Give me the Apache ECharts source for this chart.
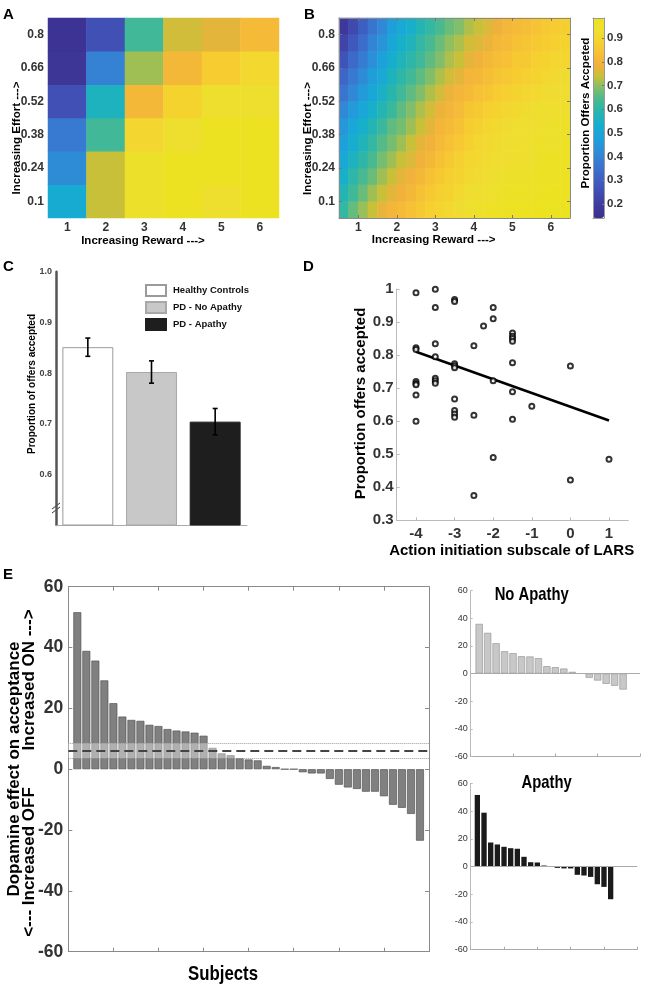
<!DOCTYPE html>
<html><head><meta charset="utf-8">
<script src="https://cdn.jsdelivr.net/npm/echarts/dist/echarts.min.js"></script>
<style>html,body{margin:0;padding:0;background:#fff}#c{width:652px;height:987px}</style>
</head><body><div id="c"></div>
<script>
// ---------- Panel A: observed acceptance (rows = effort level, columns = reward 1..6)
const rewardLevels = ['1','2','3','4','5','6'];
const effortLevels = ['0.1','0.24','0.38','0.52','0.66','0.8'];
const obsEffort01  = [0.52,0.74,0.95,0.97,0.94,0.97];
const obsEffort024 = [0.42,0.74,0.95,0.97,0.97,0.97];
const obsEffort038 = [0.37,0.63,0.90,0.94,0.97,0.97];
const obsEffort052 = [0.26,0.56,0.81,0.89,0.94,0.94];
const obsEffort066 = [0.17,0.39,0.71,0.81,0.87,0.91];
const obsEffort08  = [0.16,0.26,0.63,0.75,0.77,0.82];

// ---------- Panel B: model surface (cells of 0.25 reward x 0.07 effort)
const modelReward = ['0.625','0.875','1.125','1.375','1.625','1.875','2.125','2.375','2.625','2.875','3.125','3.375','3.625','3.875','4.125','4.375','4.625','4.875','5.125','5.375','5.625','5.875','6.125','6.375'];
const modelEffort = ['0.065','0.135','0.205','0.275','0.345','0.415','0.485','0.555','0.625','0.695','0.765','0.835'];
const modelE065 = [0.61,0.665,0.705,0.74,0.775,0.80,0.82,0.84,0.86,0.88,0.895,0.91,0.925,0.94,0.95,0.955,0.96,0.965,0.97,0.97,0.97,0.975,0.975,0.975];
const modelE135 = [0.58,0.63,0.67,0.71,0.74,0.77,0.79,0.81,0.84,0.86,0.88,0.89,0.91,0.93,0.94,0.94,0.95,0.96,0.96,0.96,0.96,0.97,0.97,0.97];
const modelE205 = [0.54,0.60,0.64,0.67,0.71,0.74,0.77,0.79,0.81,0.84,0.86,0.88,0.89,0.91,0.92,0.93,0.94,0.95,0.95,0.95,0.96,0.96,0.96,0.97];
const modelE275 = [0.51,0.56,0.60,0.64,0.68,0.71,0.74,0.76,0.79,0.81,0.84,0.86,0.88,0.90,0.91,0.92,0.93,0.93,0.94,0.94,0.95,0.96,0.96,0.96];
const modelE345 = [0.48,0.53,0.57,0.61,0.65,0.68,0.71,0.74,0.77,0.79,0.82,0.84,0.86,0.88,0.90,0.91,0.92,0.93,0.93,0.94,0.95,0.95,0.95,0.96];
const modelE415 = [0.45,0.50,0.54,0.58,0.62,0.66,0.68,0.71,0.74,0.77,0.80,0.82,0.84,0.87,0.88,0.90,0.91,0.92,0.93,0.93,0.94,0.94,0.95,0.95];
const modelE485 = [0.41,0.46,0.50,0.54,0.58,0.62,0.66,0.69,0.72,0.75,0.78,0.80,0.82,0.85,0.86,0.88,0.89,0.90,0.91,0.92,0.93,0.93,0.94,0.94];
const modelE555 = [0.36,0.41,0.46,0.50,0.55,0.59,0.63,0.66,0.69,0.72,0.75,0.78,0.80,0.82,0.84,0.85,0.87,0.88,0.89,0.90,0.91,0.92,0.92,0.93];
const modelE625 = [0.32,0.37,0.42,0.47,0.51,0.56,0.60,0.63,0.66,0.69,0.72,0.75,0.77,0.80,0.81,0.83,0.85,0.86,0.87,0.88,0.89,0.90,0.91,0.92];
const modelE695 = [0.27,0.33,0.38,0.43,0.48,0.53,0.57,0.60,0.63,0.66,0.69,0.72,0.74,0.77,0.79,0.81,0.83,0.84,0.86,0.86,0.88,0.89,0.90,0.90];
const modelE765 = [0.22,0.28,0.34,0.40,0.44,0.50,0.54,0.57,0.61,0.64,0.67,0.70,0.72,0.75,0.76,0.78,0.81,0.82,0.84,0.85,0.86,0.87,0.88,0.89];
const modelE835 = [0.18,0.24,0.30,0.36,0.41,0.47,0.51,0.54,0.58,0.61,0.64,0.67,0.69,0.72,0.74,0.76,0.785,0.805,0.82,0.83,0.845,0.86,0.87,0.875];
const rewardTicks = [1,2,3,4,5,6];
const effortTicks = [0.1,0.24,0.38,0.52,0.66,0.8];
const colorbarTicks = [0.2,0.3,0.4,0.5,0.6,0.7,0.8,0.9];

// ---------- Panel C
const groupNames = ['Healthy Controls','PD - No Apathy','PD - Apathy'];
const groupMeans = [0.851,0.802,0.704];
const groupSEM   = [0.018,0.022,0.026];
const groupTicks = [0.6,0.7,0.8,0.9,1.0];

// ---------- Panel D
const larsScore = [-4,-4,-4,-4,-4,-4,-4,-4, -3.5,-3.5,-3.5,-3.5,-3.5,-3.5,-3.5,
  -3,-3,-3,-3,-3,-3,-3,-3,-3, -2.5,-2.5,-2.5, -2.25, -2,-2,-2,-2,
  -1.5,-1.5,-1.5,-1.5,-1.5,-1.5,-1.5, -1, 0,0, 1];
const propAccepted = [0.989,0.822,0.817,0.720,0.714,0.710,0.679,0.600, 0.999,0.944,0.834,0.795,0.730,0.722,0.715,
  0.968,0.962,0.774,0.768,0.762,0.667,0.632,0.622,0.612, 0.828,0.618,0.375, 0.888, 0.944,0.910,0.722,0.490,
  0.867,0.857,0.850,0.842,0.777,0.689,0.606, 0.645, 0.767,0.422, 0.485];
const fitX = [-4,1];
const fitY = [0.81,0.602];
const larsTicks = [-4,-3,-2,-1,0,1];

// ---------- Panel E
const effectAll = [51.6,38.9,35.7,29.2,21.7,17.3,16.2,15.9,14.6,14.2,13.2,12.7,12.4,12.0,11.0,7.0,5.2,4.6,3.6,3.2,2.9,1.1,0.7,0,0,
  -1.0,-1.4,-1.4,-3.2,-5.1,-6.0,-6.5,-7.4,-7.4,-8.9,-11.7,-12.7,-14.7,-23.5];
const effectNoApathy = [35.9,29.4,21.9,16.1,14.7,12.5,12.3,11.1,5.3,4.6,3.6,1.2,0,-3.1,-5.1,-7.5,-8.9,-11.6];
const effectApathy = [51.6,38.8,17.3,15.9,14.2,13.2,12.8,7.0,3.1,2.9,0.7,0,-1.0,-1.4,-1.4,-6.0,-6.5,-7.5,-12.8,-14.7,-23.6];
const effectMean = 6.1;
const effectBandLow = 3.7;
const effectBandHigh = 8.6;

// ---------- build
const SANS = "'Liberation Sans', Arial, Helvetica, sans-serif";
const parula = ['#3b2f8d','#3f3a9e','#4049ad','#3f5bbf','#3c6dcb','#3580d4','#2a93d9','#1aa4da','#17afcc','#26b5b0','#45b993','#7dbe6c','#c6c13a','#f1b13c','#f7c036','#f5d22f','#eedf30','#ebe41c'];

const obsRows = [obsEffort01,obsEffort024,obsEffort038,obsEffort052,obsEffort066,obsEffort08];
const heatA = [];
obsRows.forEach((row, yi) => row.forEach((v, xi) => heatA.push([xi, yi, v])));
const modelRows = [modelE065,modelE135,modelE205,modelE275,modelE345,modelE415,modelE485,modelE555,modelE625,modelE695,modelE765,modelE835];
const heatB = [];
modelRows.forEach((row, yi) => row.forEach((v, xi) => heatB.push([xi, yi, v])));

const idx = arr => arr.map((v, i) => [i + 1, v]);

const lblA = {color:'#333', fontFamily:SANS, fontWeight:'bold', fontSize:12};
const hide = {show:false};

const grids = [
  {left:48, top:18, width:231, height:200},        //0 A
  {left:339, top:18, width:231, height:200},       //1 B heat
  {left:339, top:18, width:231, height:200},       //2 B axes
  {left:593, top:18, width:11, height:200},        //3 colorbar frame
  {left:56, top:271.7, width:191, height:253.3},   //4 C
  {left:396.7, top:289, width:231.6, height:231.3},//5 D
  {left:68.3, top:586.7, width:360.7, height:365}, //6 E main
  {left:470.7, top:590.5, width:169.3, height:166},//7 No apathy
  {left:470.7, top:783.3, width:166.6, height:166.4} //8 Apathy
];

const frameLine = {show:true, onZero:false, lineStyle:{color:'#8a8a8a', width:1}};
const cbLine = {show:true, onZero:false, lineStyle:{color:'#999'}};
const eLine = {show:true, onZero:false, lineStyle:{color:'#8a8a8a'}};
const xAxes = [
  {gridIndex:0, type:'category', data:rewardLevels, axisLine:hide, axisTick:hide, axisLabel:Object.assign({margin:4}, lblA)},
  {gridIndex:1, type:'category', data:modelReward, show:false},
  {gridIndex:2, type:'value', min:0.5, max:6.5, z:5, axisLine:frameLine, splitLine:hide,
    axisTick:{inside:true, length:3, customValues:rewardTicks, lineStyle:{color:'#777'}},
    axisLabel:Object.assign({margin:4, customValues:rewardTicks}, lblA)},
  {gridIndex:2, type:'value', position:'top', min:0.5, max:6.5, z:5, axisLine:frameLine, splitLine:hide,
    axisTick:{inside:true, length:3, customValues:rewardTicks, lineStyle:{color:'#777'}}, axisLabel:hide},
  {gridIndex:3, type:'value', min:0, max:1, z:6, axisLine:cbLine, axisTick:hide, axisLabel:hide, splitLine:hide},
  {gridIndex:3, type:'value', position:'top', min:0, max:1, z:6, axisLine:cbLine, axisTick:hide, axisLabel:hide, splitLine:hide},
  {gridIndex:4, type:'category', data:groupNames, axisLine:{show:true, onZero:false, lineStyle:{color:'#aaa'}}, axisTick:hide, axisLabel:hide},
  {gridIndex:5, type:'value', min:-4.5, max:1.5, splitLine:hide,
    axisLine:{show:true, onZero:false, lineStyle:{color:'#bbb'}},
    axisTick:{inside:true, length:3, customValues:larsTicks, lineStyle:{color:'#bbb'}},
    axisLabel:{customValues:larsTicks, margin:6, color:'#333', fontFamily:SANS, fontWeight:'bold', fontSize:15}},
  {gridIndex:6, type:'value', min:0, max:40, interval:5, splitLine:hide,
    axisLine:eLine, axisTick:{inside:true, length:4, lineStyle:{color:'#8a8a8a'}}, axisLabel:hide},
  {gridIndex:6, type:'value', position:'top', min:0, max:40, interval:5, splitLine:hide,
    axisLine:eLine, axisTick:{inside:true, length:4, lineStyle:{color:'#8a8a8a'}}, axisLabel:hide},
  {gridIndex:7, type:'value', min:0, max:20, interval:5, splitLine:hide,
    axisLine:{show:true, onZero:false, lineStyle:{color:'#aaa'}}, axisTick:{inside:true, length:3, lineStyle:{color:'#aaa'}}, axisLabel:hide},
  {gridIndex:8, type:'value', min:0, max:25, interval:5, splitLine:hide,
    axisLine:{show:true, onZero:false, lineStyle:{color:'#aaa'}}, axisTick:{inside:true, length:3, lineStyle:{color:'#aaa'}}, axisLabel:hide}
];

const eLbl = {color:'#333', fontFamily:SANS, fontWeight:'bold', fontSize:17.5, margin:5};
const sLbl = {color:'#333', fontFamily:SANS, fontSize:9, margin:3};
const yAxes = [
  {gridIndex:0, type:'category', data:effortLevels, axisLine:hide, axisTick:hide, axisLabel:Object.assign({margin:4}, lblA)},
  {gridIndex:1, type:'category', data:modelEffort, show:false},
  {gridIndex:2, type:'value', min:0.03, max:0.87, z:5, axisLine:frameLine, splitLine:hide,
    axisTick:{inside:true, length:3, customValues:effortTicks, lineStyle:{color:'#777'}},
    axisLabel:Object.assign({margin:4, customValues:effortTicks}, lblA)},
  {gridIndex:2, type:'value', position:'right', min:0.03, max:0.87, z:5, axisLine:frameLine, splitLine:hide,
    axisTick:{inside:true, length:3, customValues:effortTicks, lineStyle:{color:'#777'}}, axisLabel:hide},
  {gridIndex:3, type:'value', min:0.141, max:0.985, z:6, axisLine:cbLine, axisTick:hide, axisLabel:hide, splitLine:hide},
  {gridIndex:3, type:'value', position:'right', min:0.141, max:0.985, z:6, axisLine:cbLine, splitLine:hide,
    axisTick:{inside:true, length:2, customValues:colorbarTicks, lineStyle:{color:'#777'}},
    axisLabel:{customValues:colorbarTicks, margin:3, color:'#333', fontFamily:SANS, fontWeight:'bold', fontSize:11.5}},
  {gridIndex:4, type:'value', min:0.5, max:1.0, splitLine:hide,
    axisLine:{show:true, onZero:false, lineStyle:{color:'#555', width:2.5}}, axisTick:hide,
    axisLabel:{customValues:groupTicks, formatter:v => v.toFixed(1), margin:4, color:'#444', fontFamily:SANS, fontWeight:'bold', fontSize:9}},
  {gridIndex:5, type:'value', min:0.3, max:1.0, interval:0.1, splitLine:hide,
    axisLine:{show:true, onZero:false, lineStyle:{color:'#bbb'}}, axisTick:{inside:true, length:3, lineStyle:{color:'#bbb'}},
    axisLabel:{margin:3, color:'#333', fontFamily:SANS, fontWeight:'bold', fontSize:15}},
  {gridIndex:6, type:'value', min:-60, max:60, interval:20, splitLine:hide,
    axisLine:eLine, axisTick:{inside:true, length:4, lineStyle:{color:'#8a8a8a'}}, axisLabel:eLbl},
  {gridIndex:6, type:'value', position:'right', min:-60, max:60, interval:20, splitLine:hide,
    axisLine:eLine, axisTick:{inside:true, length:4, lineStyle:{color:'#8a8a8a'}}, axisLabel:hide},
  {gridIndex:7, type:'value', min:-60, max:60, interval:20, splitLine:hide,
    axisLine:{show:true, onZero:false, lineStyle:{color:'#bbb'}}, axisTick:{inside:true, length:2, lineStyle:{color:'#bbb'}}, axisLabel:sLbl},
  {gridIndex:8, type:'value', min:-60, max:60, interval:20, splitLine:hide,
    axisLine:{show:true, onZero:false, lineStyle:{color:'#bbb'}}, axisTick:{inside:true, length:2, lineStyle:{color:'#bbb'}}, axisLabel:sLbl}
];

const barStyles = [
  {color:'#ffffff', borderColor:'#9a9a9a', borderWidth:1},
  {color:'#c8c8c8', borderColor:'#a8a8a8', borderWidth:1},
  {color:'#1e1e1e', borderColor:'#1e1e1e', borderWidth:1}
];
const groupSeries = groupNames.map((name, gi) => ({
  name, type:'bar', xAxisIndex:6, yAxisIndex:6, barWidth:'80%', barGap:'-100%',
  itemStyle:barStyles[gi], silent:true,
  data:groupMeans.map((m, i) => i === gi ? m : '-')
}));

function txt(text, x, y, font, rot, align, sx) {
  return {type:'text', x, y, rotation:rot || 0, scaleX:sx || 1, silent:true,
    style:{text, font, fill:'#000', textAlign:align || 'center', align:align || 'center', textVerticalAlign:'middle', verticalAlign:'middle'}};
}
const R = Math.PI / 2;

const option = {
  animation:false,
  backgroundColor:'#fff',
  grid:grids,
  xAxis:xAxes,
  yAxis:yAxes,
  visualMap:{type:'continuous', seriesIndex:[0,1], min:0.14, max:0.985, calculable:false, show:true,
    left:593, top:18, itemWidth:11, itemHeight:200, padding:0, text:null, showLabel:false,
    inRange:{color:parula}},
  legend:{data:groupNames, orient:'vertical', left:145, top:284, padding:0, itemWidth:20, itemHeight:11, itemGap:4, icon:'rect',
    selectedMode:false, textStyle:{fontFamily:SANS, fontWeight:'bold', fontSize:9.5, color:'#111', padding:[0,0,0,2]}},
  series:[
    {type:'heatmap', xAxisIndex:0, yAxisIndex:0, data:heatA, silent:true},
    {type:'heatmap', xAxisIndex:1, yAxisIndex:1, data:heatB, silent:true},
    ...groupSeries,
    {type:'custom', xAxisIndex:6, yAxisIndex:6, silent:true, z:5,
      data:groupMeans.map((m, i) => [i, m - groupSEM[i], m + groupSEM[i]]),
      renderItem:(params, api) => {
        const lo = api.coord([api.value(0), api.value(1)]);
        const hi = api.coord([api.value(0), api.value(2)]);
        const c = 2.5, st = {stroke:'#000', lineWidth:1.6};
        return {type:'group', children:[
          {type:'line', shape:{x1:lo[0], y1:lo[1], x2:hi[0], y2:hi[1]}, style:st},
          {type:'line', shape:{x1:lo[0]-c, y1:lo[1], x2:lo[0]+c, y2:lo[1]}, style:st},
          {type:'line', shape:{x1:hi[0]-c, y1:hi[1], x2:hi[0]+c, y2:hi[1]}, style:st}
        ]};
      }},
    {type:'scatter', xAxisIndex:7, yAxisIndex:7, symbol:'circle', symbolSize:5, silent:true, z:4,
      itemStyle:{color:'#fff', borderColor:'#000', borderWidth:2},
      data:larsScore.map((x, i) => [x, propAccepted[i]])},
    {type:'line', xAxisIndex:7, yAxisIndex:7, symbol:'none', silent:true,
      lineStyle:{color:'#000', width:2.5}, data:fitX.map((x, i) => [x, fitY[i]])},
    {type:'bar', xAxisIndex:8, yAxisIndex:8, barWidth:'88%', silent:true,
      itemStyle:{color:'#808080', borderColor:'#555', borderWidth:0.7}, data:idx(effectAll)},
    {type:'line', xAxisIndex:8, yAxisIndex:8, data:[], z:10, silent:true,
      markArea:{silent:true, z:6, itemStyle:{color:'rgba(255,255,255,0.38)'}, data:[[{yAxis:effectBandLow},{yAxis:effectBandHigh}]]},
      markLine:{silent:true, z:7, symbol:'none', label:{show:false}, data:[
        {yAxis:effectBandHigh, lineStyle:{color:'#999', width:1, type:'dotted'}},
        {yAxis:effectBandLow, lineStyle:{color:'#999', width:1, type:'dotted'}},
        {yAxis:effectMean, lineStyle:{color:'#444', width:2, type:[9,5]}}
      ]}},
    {type:'bar', xAxisIndex:10, yAxisIndex:10, barWidth:'86%', silent:true,
      itemStyle:{color:'#c8c8c8', borderColor:'#9a9a9a', borderWidth:0.7}, data:idx(effectNoApathy),
      markLine:{silent:true, symbol:'none', label:{show:false}, data:[{yAxis:0}], lineStyle:{color:'#aaa', width:1, type:'solid'}}},
    {type:'bar', xAxisIndex:11, yAxisIndex:11, barWidth:'80%', silent:true,
      itemStyle:{color:'#1a1a1a'}, data:idx(effectApathy),
      markLine:{silent:true, symbol:'none', label:{show:false}, data:[{yAxis:0}], lineStyle:{color:'#aaa', width:1, type:'solid'}}}
  ],
  graphic:[
    txt('A', 3, 15, 'bold 15px ' + SANS, 0, 'left'),
    txt('B', 304, 15, 'bold 15px ' + SANS, 0, 'left'),
    txt('C', 3, 267, 'bold 15px ' + SANS, 0, 'left'),
    txt('D', 303, 267, 'bold 15px ' + SANS, 0, 'left'),
    txt('E', 3, 575, 'bold 15px ' + SANS, 0, 'left'),
    txt('Increasing Effort --->', 16.7, 138, 'bold 11.5px ' + SANS, R),
    txt('Increasing Effort --->', 308, 138.5, 'bold 11.5px ' + SANS, R),
    txt('Increasing Reward --->', 143, 240.5, 'bold 11.5px ' + SANS),
    txt('Increasing Reward --->', 433.7, 240, 'bold 11.5px ' + SANS),
    txt('Proportion Offers Accpeted', 585.7, 113, 'bold 11.5px ' + SANS, R),
    txt('Proportion of offers accepted', 32, 384, 'bold 10px ' + SANS, R),
    txt('Proportion offers accepted', 361, 403.5, 'bold 15px ' + SANS, R),
    txt('Action initiation subscale of LARS', 511.7, 551, 'bold 15px ' + SANS),
    txt('Dopamine effect on acceptance', 14, 769, 'bold 17px ' + SANS, R),
    txt('Increased ON --->', 29.5, 680, 'bold 17px ' + SANS, R),
    txt('<--- Increased OFF', 29.5, 862, 'bold 17px ' + SANS, R),
    txt('Subjects', 223, 974, 'bold 21px ' + SANS, 0, 'center', 0.8),
    txt('No Apathy', 531.7, 595, 'bold 19px ' + SANS, 0, 'center', 0.78),
    txt('Apathy', 546.7, 783, 'bold 19px ' + SANS, 0, 'center', 0.78),
    {type:'line', silent:true, shape:{x1:52, y1:509, x2:60, y2:503}, style:{stroke:'#333', lineWidth:1}},
    {type:'line', silent:true, shape:{x1:52, y1:513, x2:60, y2:507}, style:{stroke:'#333', lineWidth:1}}
  ]
};
const chart = echarts.init(document.getElementById('c'));
chart.setOption(option);
</script>
</body></html>
